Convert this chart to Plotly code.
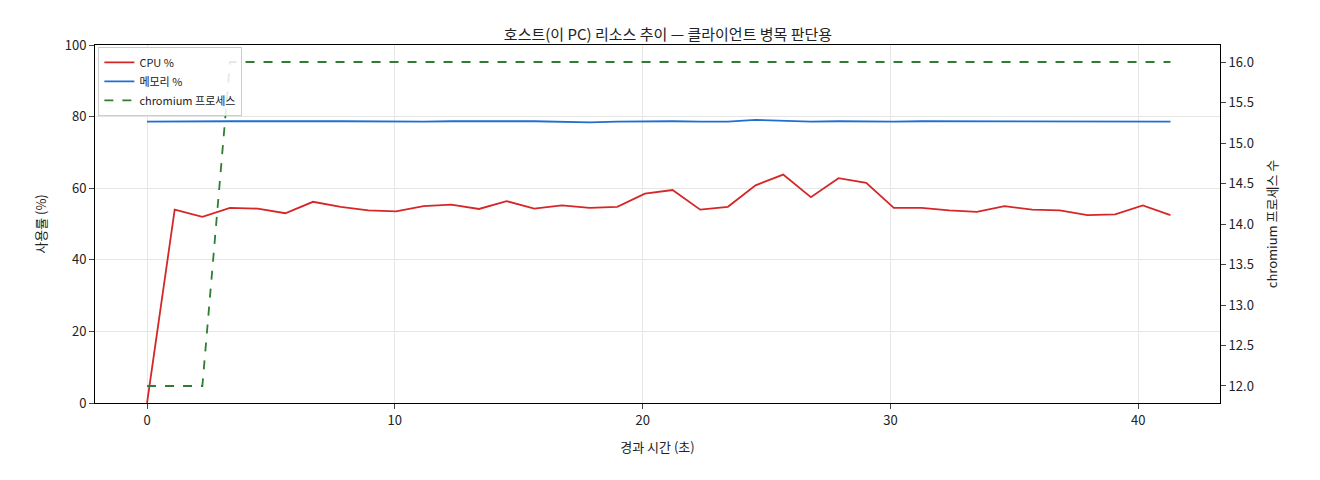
import plotly.graph_objects as go

step = 41.3 / 37
t = [round(i * step, 3) for i in range(38)]
cpu = [0, 54, 52, 54.5, 54.3, 53, 56.2, 54.8, 53.8, 53.5, 55, 55.4, 54.2, 56.4, 54.3, 55.2,
       54.5, 54.8, 58.5, 59.5, 54, 54.8, 60.8, 63.8, 57.5, 62.8, 61.5, 54.5, 54.5, 53.8,
       53.4, 55, 54, 53.8, 52.5, 52.7, 55.2, 52.5]
mem = [78.6, 78.7, 78.7, 78.7, 78.7, 78.6, 78.7, 78.7, 78.6, 78.7, 78.6, 78.7, 78.6, 78.7,
       78.7, 78.6, 78.4, 78.6, 78.7, 78.7, 78.6, 78.6, 79.1, 78.9, 78.6, 78.7, 78.6, 78.6,
       78.7, 78.7, 78.6, 78.7, 78.7, 78.6, 78.6, 78.7, 78.6, 78.6]
chrom = [12, 12, 12] + [16] * 35

FONT = "Noto Sans CJK KR, Noto Sans, sans-serif"
fig = go.Figure()
fig.add_trace(go.Scatter(x=t, y=cpu, mode="lines", name="CPU %", line=dict(color="#d62728", width=1.8)))
fig.add_trace(go.Scatter(x=t, y=mem, mode="lines", name="메모리 %", line=dict(color="#1f6fd1", width=1.8)))
fig.add_trace(go.Scatter(x=t, y=chrom, mode="lines", name="chromium 프로세스", yaxis="y2",
                         line=dict(color="#2e7d32", width=1.8, dash="dash")))
fig.update_layout(
    width=1320, height=480, paper_bgcolor="white", plot_bgcolor="white",
    font=dict(family=FONT, size=13, color="#222"),
    margin=dict(l=87, r=108, t=37, b=85),
    title=dict(text="호스트(이 PC) 리소스 추이 — 클라이언트 병목 판단용", x=0.5, y=0.955,
               xanchor="center", font=dict(size=15)),
    xaxis=dict(title=dict(text="경과 시간 (초)", font=dict(size=13)), range=[-2.1, 43.3],
               tickvals=[0, 10, 20, 30, 40], showgrid=True, gridcolor="#e6e6e6",
               showline=True, linecolor="black", mirror=True, ticks="outside", zeroline=False),
    yaxis=dict(title=dict(text="사용률 (%)", font=dict(size=13)), range=[0, 100], dtick=20,
               showgrid=True, gridcolor="#e6e6e6", showline=True, linecolor="black",
               ticks="outside", zeroline=False),
    yaxis2=dict(title=dict(text="chromium 프로세스 수", font=dict(size=13)), overlaying="y",
                side="right", range=[11.79, 16.21], dtick=0.5, tickformat=".1f",
                showgrid=False, showline=True, linecolor="black", ticks="outside", zeroline=False),
    legend=dict(x=0.003, y=0.995, xanchor="left", yanchor="top", bgcolor="rgba(255,255,255,0.85)",
                bordercolor="#ccc", borderwidth=1, font=dict(size=11)),
)
fig.write_html("out.html")
